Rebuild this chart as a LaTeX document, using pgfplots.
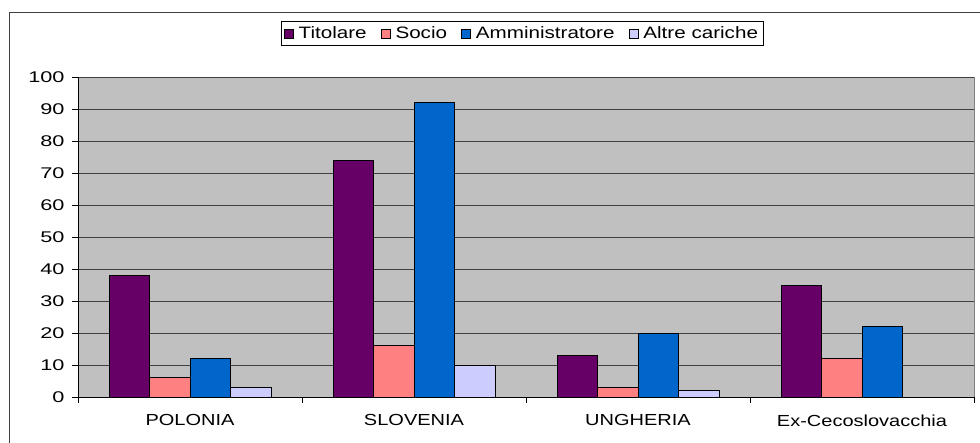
\documentclass[border=0pt]{standalone}
\usepackage{fontspec}
\setmainfont{Liberation Sans}
\usepackage{graphicx}
\usepackage{pgfplots}
\pgfplotsset{compat=1.18}
\definecolor{cTit}{HTML}{660066}
\definecolor{cSoc}{HTML}{FF8080}
\definecolor{cAmm}{HTML}{0066CC}
\definecolor{cAlt}{HTML}{CCCCFF}
\definecolor{plotbg}{HTML}{C0C0C0}
\newcommand\wx[2][1.25]{\scalebox{#1}[1]{#2}}
\begin{document}
\begin{tikzpicture}
\path[use as bounding box, clip] (0pt,0pt) rectangle (980pt,-442pt);
\draw[line width=1.2pt, black!75] (9.5pt,-12.5pt) rectangle (1000pt,-460pt);
\begin{axis}[
  at={(78pt,-397pt)}, anchor=south west,
  scale only axis, width=896pt, height=320pt,
  ybar=0pt, bar width=40.5pt,
  xmin=-0.5, xmax=3.5, ymin=0, ymax=100,
  axis lines*=left,
  axis line style={black, line width=1pt},
  axis background/.style={fill=plotbg, draw=gray, line width=1pt},
  xtick={0,1,2,3},
  xticklabels={\wx{POLONIA},\wx{SLOVENIA},\wx{UNGHERIA},\wx{Ex-Cecoslovacchia}},
  major x tick style={draw=none},
  minor xtick={-0.5,0.5,1.5,2.5,3.5},
  ytick={0,10,...,100},
  yticklabels={\wx[1.4]{0},\wx[1.4]{10},\wx[1.4]{20},\wx[1.4]{30},\wx[1.4]{40},\wx[1.4]{50},\wx[1.4]{60},\wx[1.4]{70},\wx[1.4]{80},\wx[1.4]{90},\wx[1.4]{100}},
  tick align=outside,
  major tick length=6pt, minor tick length=6pt,
  tick style={black, line width=1pt},
  ymajorgrids,
  major grid style={black!75, line width=1pt},
  xticklabel style={font=\fontsize{16}{19}\selectfont, yshift=-8pt},
  yticklabel style={font=\fontsize{15.5}{18}\selectfont, xshift=-4pt},
  legend columns=4,
  legend cell align=left,
  legend style={at={(0.4955,1.136)}, anchor=center, draw=black, line width=0.8pt,
    font=\fontsize{16.5}{19}\selectfont, inner ysep=3.5pt, inner xsep=3pt,
    /tikz/every odd column/.append style={column sep=3pt},
    /tikz/every even column/.append style={column sep=12pt}},
  legend image code/.code={\draw[#1,draw=black,line width=0.8pt] (0pt,-4.5pt) rectangle (9pt,4.5pt);},
]
\addplot[fill=cTit, draw=black, line width=1pt] coordinates {(0,38) (1,74) (2,13) (3,35)};
\addplot[fill=cSoc, draw=black, line width=1pt] coordinates {(0,6) (1,16) (2,3) (3,12)};
\addplot[fill=cAmm, draw=black, line width=1pt] coordinates {(0,12) (1,92) (2,20) (3,22)};
\addplot[fill=cAlt, draw=black, line width=1pt] coordinates {(0,3) (1,10) (2,2)};
\legend{\wx{Titolare},\wx{Socio},\wx{Amministratore},\wx{Altre cariche}}
\end{axis}
\end{tikzpicture}
\end{document}
